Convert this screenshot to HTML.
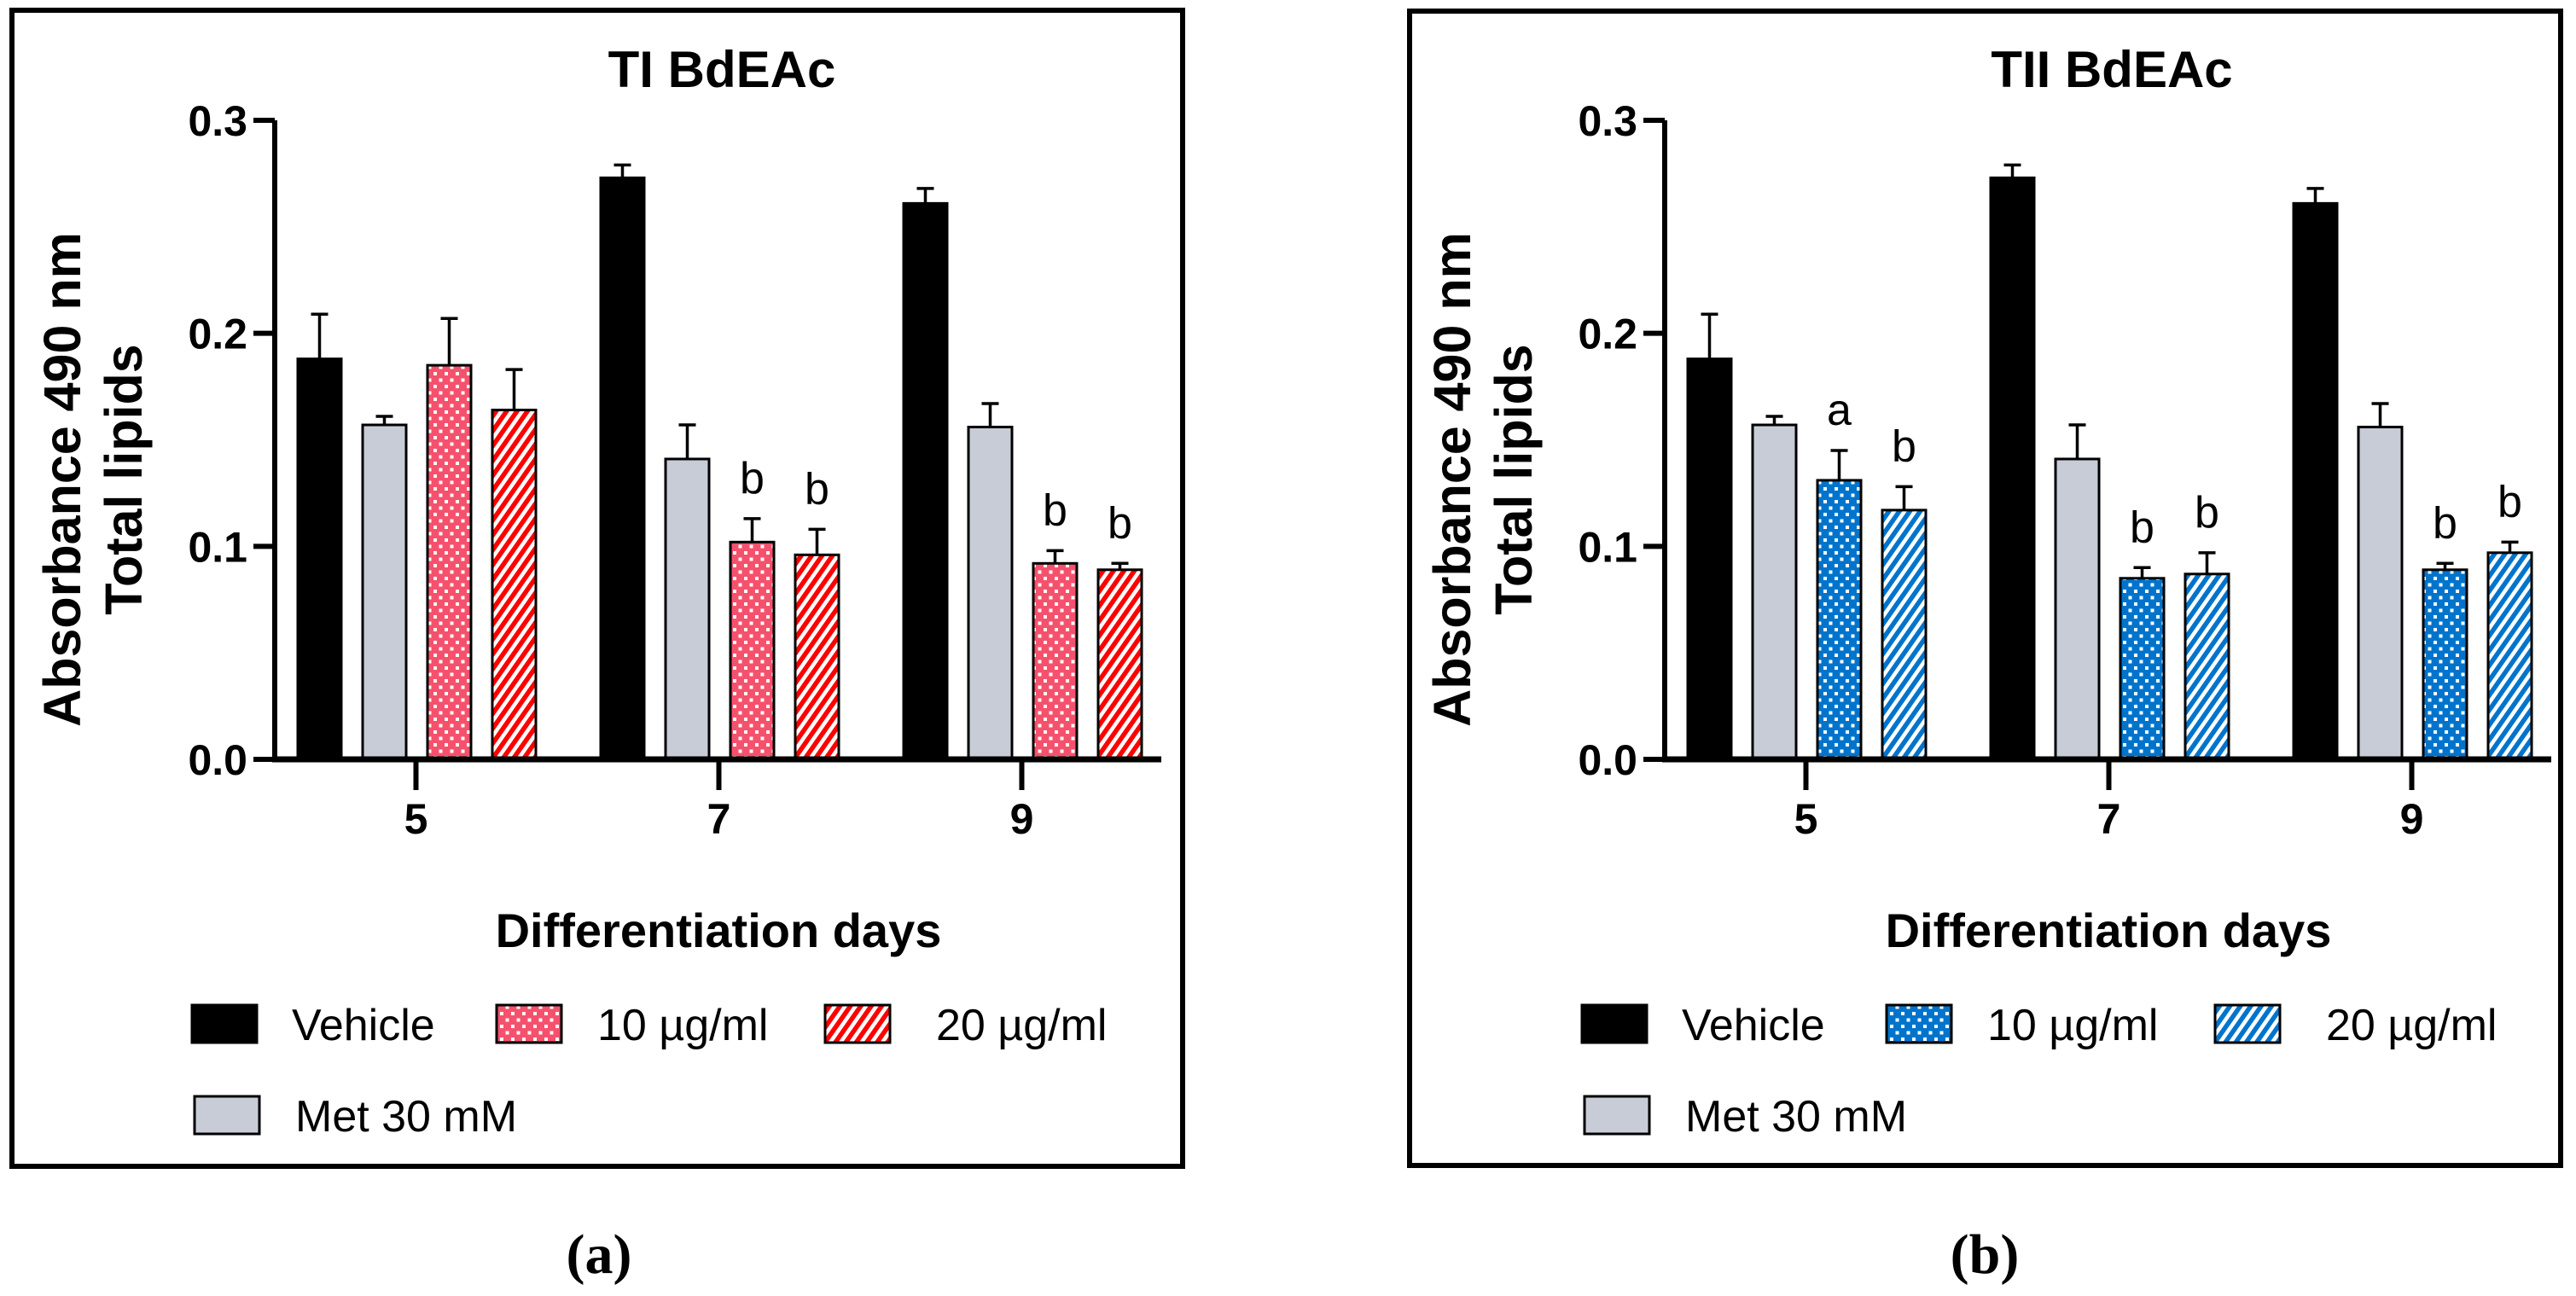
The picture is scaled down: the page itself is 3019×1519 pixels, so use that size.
<!DOCTYPE html>
<html><head><meta charset="utf-8"><style>
html,body{margin:0;padding:0;background:#fff;}
svg{display:block;font-family:"Liberation Sans",Arial,sans-serif;}
</style></head><body>
<svg id="chart" width="3019" height="1519" viewBox="0 0 3019 1519" xmlns="http://www.w3.org/2000/svg">
<defs>
<pattern id="dotRed" width="13" height="15" patternUnits="userSpaceOnUse"><rect width="13" height="15" fill="#f5516d"/><rect x="1" y="1" width="4" height="4" fill="#fff"/><rect x="7.5" y="8.5" width="4" height="4" fill="#fff"/></pattern>
<pattern id="hatchRed" width="10" height="10" patternUnits="userSpaceOnUse" patternTransform="rotate(35)"><rect width="10" height="10" fill="#fff"/><rect width="5.5" height="10" fill="#f00"/></pattern>
<pattern id="dotBlue" width="13" height="15" patternUnits="userSpaceOnUse"><rect width="13" height="15" fill="#0074cc"/><rect x="1" y="1" width="4" height="4" fill="#fff"/><rect x="7.5" y="8.5" width="4" height="4" fill="#fff"/></pattern>
<pattern id="hatchBlue" width="10" height="10" patternUnits="userSpaceOnUse" patternTransform="rotate(35)"><rect width="10" height="10" fill="#fff"/><rect width="5.5" height="10" fill="#0074cc"/></pattern>
</defs>
<rect x="14" y="12" width="1372" height="1355" fill="none" stroke="#000" stroke-width="6"/>
<rect x="1652" y="13" width="1349" height="1353" fill="none" stroke="#000" stroke-width="6"/>
<g id="panels"></g>
</svg>
<script>
const days = ["5","7","9"];
const yTicks = [0, 0.1, 0.2, 0.3];
const yTickLabels = ["0.0","0.1","0.2","0.3"];
const seriesNames = ["Vehicle","Met 30 mM","10 µg/ml","20 µg/ml"];
const aVehicle = [0.188, 0.273, 0.261];
const aVehicleErr = [0.021, 0.006, 0.007];
const aMet = [0.157, 0.141, 0.156];
const aMetErr = [0.004, 0.016, 0.011];
const a10 = [0.185, 0.102, 0.092];
const a10Err = [0.022, 0.011, 0.006];
const a20 = [0.164, 0.096, 0.089];
const a20Err = [0.019, 0.012, 0.003];
const aLetters10 = ["", "b", "b"];
const aLetters20 = ["", "b", "b"];
const bVehicle = [0.188, 0.273, 0.261];
const bVehicleErr = [0.021, 0.006, 0.007];
const bMet = [0.157, 0.141, 0.156];
const bMetErr = [0.004, 0.016, 0.011];
const b10 = [0.131, 0.085, 0.089];
const b10Err = [0.014, 0.005, 0.003];
const b20 = [0.117, 0.087, 0.097];
const b20Err = [0.011, 0.010, 0.005];
const bLetters10 = ["a", "b", "b"];
const bLetters20 = ["b", "b", "b"];

const NS = "http://www.w3.org/2000/svg";
const root = document.getElementById("panels");
function mk(tag, attrs, parent, text) {
  const e = document.createElementNS(NS, tag);
  for (const k in attrs) e.setAttribute(k, attrs[k]);
  if (text !== undefined) e.textContent = text;
  parent.appendChild(e);
  return e;
}

function panel(ox, key, title, caption, fills, series, errs, letters) {
  const g = mk("g", {transform: "translate(" + ox + ",0)"}, root);
  
  
  const axX = 322, y0 = 890, yTop = 141, axEnd = 1361;
  const yS = v => y0 - (v / 0.3) * (y0 - yTop);
  const groupX = i => 349 + i * 355;
  const barX = (i, s) => groupX(i) + s * 76;
  const bw = 51;

  let t = mk("text", {x: axX + 524, y: 102, "font-size": 60, "font-weight": "bold", "text-anchor": "middle"}, g, title);
  
  

  for (let s = 0; s < 4; s++) {
    for (let i = 0; i < days.length; i++) {
      const v = series[s][i], top = yS(v);
      const r = mk("rect", {x: barX(i, s), y: top, width: bw, height: y0 - top, fill: fills[s], stroke: "#000", "stroke-width": 3}, g);
      
      
      const et = yS(v + errs[s][i]);
      const cx = barX(i, s) + bw / 2;
      const eb = mk("path", {d: "M" + cx + " " + top + "V" + et + "M" + (cx - 10) + " " + et + "H" + (cx + 10), stroke: "#000", "stroke-width": 3.5, fill: "none"}, g);
      
      
      const L = s === 2 ? letters[0][i] : s === 3 ? letters[1][i] : "";
      if (L) {
        const lt = mk("text", {x: cx, y: et - 30, "font-size": 52, "text-anchor": "middle"}, g, L);
        
        
      }
    }
  }
  const ya = mk("path", {d: "M" + axX + " " + (yTop) + "V" + (y0 + 3), stroke: "#000", "stroke-width": 6}, g);
  
  
  const xa = mk("path", {d: "M" + (axX - 3) + " " + y0 + "H" + axEnd, stroke: "#000", "stroke-width": 7}, g);
  
  
  yTicks.forEach((v, k) => {
    const tk = mk("path", {d: "M" + (axX - 25) + " " + yS(v) + "H" + axX, stroke: "#000", "stroke-width": 6}, g);
    
    
    const tl = mk("text", {x: axX - 32, y: yS(v) + 18, "font-size": 50, "font-weight": "bold", "text-anchor": "end"}, g, yTickLabels[k]);
    
    
  });
  days.forEach((d, i) => {
    const cx = groupX(i) + (3 * 76 + bw) / 2 - 1;
    const tk = mk("path", {d: "M" + cx + " " + y0 + "V" + (y0 + 36), stroke: "#000", "stroke-width": 6}, g);
    
    
    const tl = mk("text", {x: cx, y: y0 + 87, "font-size": 50, "font-weight": "bold", "text-anchor": "middle"}, g, d);
    
    
  });
  const yt = mk("text", {transform: "translate(" + (axX - 228) + ",562) rotate(-90)", "font-size": 61, "font-weight": "bold", "text-anchor": "middle"}, g);
  
  
  mk("tspan", {x: 0, y: 0}, yt, "Absorbance 490 nm");
  mk("tspan", {x: 0, y: 72}, yt, "Total lipids");
  const xt = mk("text", {x: axX + 520, y: 1110, "font-size": 56, "font-weight": "bold", "text-anchor": "middle"}, g, "Differentiation days");
  
  
  const lg = [[225, 1200, 0, 342], [582, 1200, 2, 700], [967, 1200, 3, 1097], [228, 1307, 1, 346]];
  lg.forEach(l => {
    const e = mk("g", {}, g);
    
    
    mk("rect", {x: l[0], y: l[1] - 22, width: 76, height: 44, fill: fills[l[2]], stroke: "#000", "stroke-width": 3}, e);
    mk("text", {x: l[3], y: l[1] + 19, "font-size": 52}, e, seriesNames[l[2]]);
  });
  const cp = mk("text", {x: 702 + (key === "b" ? -5 : 0), y: 1492, "font-size": 66, "font-family": "Liberation Serif, serif", "text-anchor": "middle", "font-weight": "bold"}, g, caption);
  
  
}
panel(0, "a", "TI BdEAc", "(a)", ["#000", "#c8ccd6", "url(#dotRed)", "url(#hatchRed)"],
  [aVehicle, aMet, a10, a20], [aVehicleErr, aMetErr, a10Err, a20Err], [aLetters10, aLetters20]);
panel(1629, "b", "TII BdEAc", "(b)", ["#000", "#c8ccd6", "url(#dotBlue)", "url(#hatchBlue)"],
  [bVehicle, bMet, b10, b20], [bVehicleErr, bMetErr, b10Err, b20Err], [bLetters10, bLetters20]);
</script>
</body></html>
